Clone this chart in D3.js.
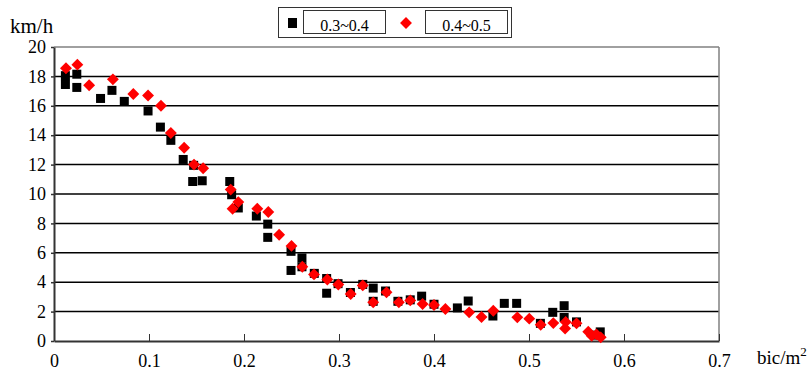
<!DOCTYPE html>
<html><head><meta charset="utf-8">
<script src="https://cdn.jsdelivr.net/npm/d3@7"></script>
<style>body{margin:0;background:#fff}svg{display:block}svg text{font-family:"Liberation Serif","Times New Roman",Times,"Tinos","DejaVu Serif",serif !important}</style>
</head><body><svg id="c" width="809" height="373"></svg>
<script>
const seriesNames = ["0.3~0.4", "0.4~0.5"];
const xTicks = [0, 0.1, 0.2, 0.3, 0.4, 0.5, 0.6, 0.7];
const yTicks = [0, 2, 4, 6, 8, 10, 12, 14, 16, 18, 20];
const blackX = [0.012,0.012,0.024,0.024,0.049,0.061,0.074,0.099,0.112,0.123,0.136,0.147,0.146,0.156,0.185,0.187,0.194,0.213,0.225,0.225,0.2495,0.2495,0.261,0.261,0.274,0.287,0.287,0.299,0.312,0.325,0.336,0.336,0.349,0.362,0.375,0.387,0.4,0.4246,0.436,0.462,0.474,0.487,0.512,0.525,0.537,0.537,0.55,0.575,0.57];
const blackY = [18.05,17.45,18.15,17.25,16.5,17.05,16.3,15.65,14.55,13.65,12.35,11.95,10.85,10.9,10.85,9.95,9.05,8.5,7.95,7.05,6.1,4.8,5.65,5.05,4.6,4.25,3.25,3.9,3.3,3.85,3.6,2.7,3.4,2.7,2.8,3.05,2.5,2.25,2.72,1.7,2.56,2.56,1.2,1.95,2.4,1.6,1.3,0.62,0.4];
const redX = [0.0126,0.0246,0.037,0.062,0.0835,0.099,0.1126,0.123,0.137,0.1474,0.157,0.186,0.188,0.194,0.214,0.2256,0.237,0.25,0.2614,0.2737,0.2877,0.2993,0.3123,0.325,0.336,0.35,0.363,0.375,0.388,0.4,0.412,0.437,0.45,0.4624,0.4877,0.5003,0.5123,0.5256,0.5386,0.538,0.55,0.5624,0.566,0.5755,0.571];
const redY = [18.55,18.8,17.4,17.8,16.8,16.7,16.0,14.15,13.15,12.0,11.75,10.3,9.0,9.45,9.0,8.78,7.23,6.47,5.05,4.53,4.18,3.84,3.2,3.78,2.63,3.31,2.63,2.76,2.52,2.45,2.18,1.95,1.63,2.06,1.61,1.52,1.1,1.22,1.3,0.85,1.2,0.63,0.35,0.25,0.45];

const svg = d3.select("#c");
const L = 54, R = 719, T = 47, B = 341;
const x = d3.scaleLinear().domain([0, 0.7]).range([L, R]);
const y = d3.scaleLinear().domain([0, 20]).range([B, T]);

// gridlines
svg.append("g").selectAll("line").data(yTicks.filter(d => d > 0 && d < 20)).join("line")
  .attr("x1", L).attr("x2", R).attr("y1", d => y(d)).attr("y2", d => y(d))
  .attr("stroke", "#000").attr("stroke-width", 1.5);
// top and right border
svg.append("line").attr("x1", L).attr("x2", R).attr("y1", y(20)).attr("y2", y(20)).attr("stroke", "#808080").attr("stroke-width", 1.5);
svg.append("line").attr("x1", R).attr("x2", R).attr("y1", T).attr("y2", B).attr("stroke", "#808080").attr("stroke-width", 1.5);

// x axis
const xa = svg.append("g").attr("transform", `translate(0,${B})`)
  .call(d3.axisBottom(x).tickValues(xTicks).tickFormat(d => d === 0 ? "0" : d3.format(".1f")(d)).tickSizeInner(-7).tickSizeOuter(0).tickPadding(13));
xa.select(".domain").attr("stroke", "#333").attr("stroke-width", 2);
xa.selectAll(".tick line").attr("stroke", "#333").attr("stroke-width", 1);
xa.selectAll("text").attr("font-size", 18).attr("fill", "#000");

// y axis
const ya = svg.append("g").attr("transform", `translate(${L},0)`)
  .call(d3.axisLeft(y).tickValues(yTicks).tickSizeInner(3).tickSizeOuter(0).tickPadding(5));
ya.select(".domain").attr("stroke", "#333").attr("stroke-width", 2);
ya.selectAll(".tick line").attr("stroke", "#333").attr("stroke-width", 1.5);
ya.selectAll("text").attr("font-size", 18).attr("fill", "#000");

// axis titles
svg.append("text").attr("x", 10).attr("y", 33).attr("font-size", 21).text("km/h");
const xt = svg.append("text").attr("x", 757).attr("y", 364).attr("font-size", 19).text("bic/m");
xt.append("tspan").attr("dy", -8).attr("font-size", 13).text("2");

// points
const blacks = blackX.map((v, i) => [v, blackY[i]]);
const reds = redX.map((v, i) => [v, redY[i]]);
const s = 9;
svg.append("g").selectAll("rect").data(blacks).join("rect")
  .attr("x", d => x(d[0]) - s / 2).attr("y", d => y(d[1]) - s / 2)
  .attr("width", s).attr("height", s).attr("fill", "#000");
const diamond = d3.symbol().type(d3.symbolDiamond2).size(90);
svg.append("g").selectAll("path").data(reds).join("path")
  .attr("transform", d => `translate(${x(d[0])},${y(d[1])})`)
  .attr("d", diamond).attr("fill", "#ff0000");

// legend
const lg = svg.append("g");
lg.append("rect").attr("x", 278.5).attr("y", 7.5).attr("width", 233).attr("height", 30).attr("fill", "#fff").attr("stroke", "#333").attr("stroke-width", 1);
lg.append("rect").attr("x", 288).attr("y", 18).attr("width", 9).attr("height", 10).attr("fill", "#000");
lg.append("rect").attr("x", 303.5).attr("y", 10.5).attr("width", 82).attr("height", 23).attr("fill", "none").attr("stroke", "#333");
lg.append("text").attr("x", 344.5).attr("y", 31).attr("text-anchor", "middle").attr("font-size", 16).text(seriesNames[0]);
lg.append("path").attr("transform", "translate(406,23)").attr("d", diamond).attr("fill", "#ff0000");
lg.append("rect").attr("x", 425.5).attr("y", 10.5).attr("width", 82).attr("height", 23).attr("fill", "none").attr("stroke", "#333");
lg.append("text").attr("x", 466.5).attr("y", 31).attr("text-anchor", "middle").attr("font-size", 16).text(seriesNames[1]);
</script></body></html>
